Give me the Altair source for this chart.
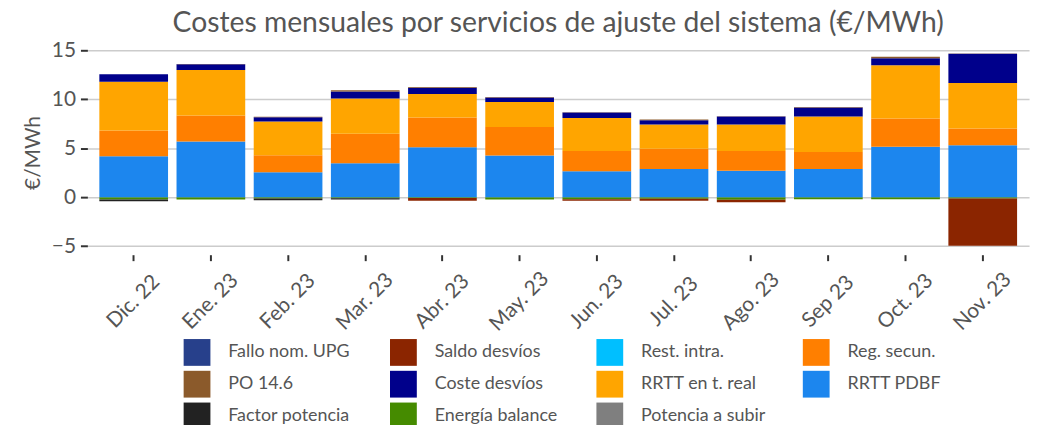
import altair as alt
import pandas as pd

months = ["Dic. 22", "Ene. 23", "Feb. 23", "Mar. 23", "Abr. 23", "May. 23",
          "Jun. 23", "Jul. 23", "Ago. 23", "Sep 23", "Oct. 23", "Nov. 23"]

# Legend order (column-major, 3 rows) and colours
series_names = ["Fallo nom. UPG", "PO 14.6", "Factor potencia",
                "Saldo desvíos", "Coste desvíos", "Energía balance",
                "Rest. intra.", "RRTT en t. real", "Potencia a subir",
                "Reg. secun.", "RRTT PDBF"]
series_colors = ["#27408B", "#8B5A2B", "#222222",
                 "#8B2500", "#00008B", "#458B00",
                 "#00BFFF", "#FFA500", "#7F7F7F",
                 "#FF7F00", "#1C86EE"]

# Values (€/MWh)
rrtt_pdbf      = [4.18, 5.70, 2.56, 3.47, 5.09, 4.25, 2.66, 2.87, 2.70, 2.87, 5.16, 5.30]
reg_secun      = [2.63, 2.64, 1.72, 3.01, 3.04, 2.91, 2.07, 2.09, 2.03, 1.75, 2.87, 1.72]
rrtt_real      = [4.97, 4.66, 3.45, 3.61, 2.40, 2.56, 3.37, 2.47, 2.70, 3.62, 5.44, 4.63]
coste_desvios  = [0.78, 0.58, 0.44, 0.71, 0.64, 0.47, 0.54, 0.44, 0.81, 0.91, 0.71, 3.00]
po_146         = [0.00, 0.03, 0.05, 0.13, 0.07, 0.05, 0.03, 0.07, 0.03, 0.07, 0.17, 0.03]
energia_bal    = [-0.23, -0.23, -0.13, -0.10, -0.07, -0.23, -0.20, -0.15, -0.27, -0.20, -0.20, -0.13]
factor_pot     = [-0.17, 0.00, -0.17, -0.13, 0.00, 0.00, 0.00, 0.00, 0.00, 0.00, 0.00, 0.00]
saldo_desvios  = [0.00, 0.00, 0.00, 0.00, -0.30, 0.00, -0.17, -0.20, -0.25, 0.00, 0.00, -4.82]
fallo_upg      = [0.0] * 12
rest_intra     = [0.0] * 12
pot_subir      = [0.0] * 12

series_values = {
    "Energía balance": energia_bal,
    "RRTT PDBF": rrtt_pdbf,
    "Reg. secun.": reg_secun,
    "RRTT en t. real": rrtt_real,
    "Coste desvíos": coste_desvios,
    "PO 14.6": po_146,
    "Factor potencia": factor_pot,
    "Saldo desvíos": saldo_desvios,
    "Rest. intra.": rest_intra,
    "Fallo nom. UPG": fallo_upg,
    "Potencia a subir": pot_subir,
}
stack_order = list(series_values.keys())

rows = []
for s, vals in series_values.items():
    for m, v in zip(months, vals):
        if v != 0:
            rows.append({"mes": m, "serie": s, "valor": v, "orden": stack_order.index(s)})
df = pd.DataFrame(rows)

FONT = "Lato"
TXT = "#555555"

chart = alt.Chart(df).mark_bar().encode(
    x=alt.X("mes:N", sort=months,
            scale=alt.Scale(paddingInner=0.11, paddingOuter=0.155),
            axis=alt.Axis(title=None, labelAngle=-45, labelAlign="center",
                          labelBaseline="middle", labelPadding=41,
                          labelFontSize=21, labelColor=TXT, labelFont=FONT,
                          tickColor="#333333", tickWidth=2, tickSize=6,
                          domain=False, grid=False, labelOverlap=False,
                          labelBound=False)),
    y=alt.Y("valor:Q", stack="zero",
            scale=alt.Scale(domain=[-5.87, 15], nice=False, zero=False),
            axis=alt.Axis(values=[-5, 0, 5, 10, 15], title="€/MWh",
                          labelFontSize=21, labelColor=TXT, labelFont=FONT,
                          tickColor="#333333", tickWidth=2, tickSize=7,
                          labelPadding=5, domain=False,
                          gridColor="#cccccc", gridWidth=1.5,
                          titleFontSize=21, titleColor=TXT, titleFont=FONT,
                          titleFontWeight="normal", titlePadding=8)),
    color=alt.Color("serie:N",
                    scale=alt.Scale(domain=series_names, range=series_colors),
                    legend=alt.Legend(title=None, orient="none", legendX=97, legendY=291,
                                      columns=4, symbolType="square", symbolSize=729,
                                      symbolStrokeWidth=0, labelFontSize=18,
                                      labelColor=TXT, labelFont=FONT, labelOffset=18,
                                      rowPadding=5, columnPadding=37, gridAlign="all",
                                      padding=0, symbolOpacity=1)),
    order=alt.Order("orden:Q", sort="ascending"),
).properties(
    width=949, height=206,
    title=alt.Title(text="Costes mensuales por servicios de ajuste del sistema (€/MWh)",
                    fontSize=28.5, color=TXT, font=FONT, fontWeight="normal",
                    offset=2, anchor="middle"),
    autosize=alt.AutoSizeParams(type="none"),
    padding={"left": 80, "top": 41, "right": 6, "bottom": 170},
).configure_view(stroke=None)

chart.save("out.html", embed_options={"renderer": "svg", "actions": False})
